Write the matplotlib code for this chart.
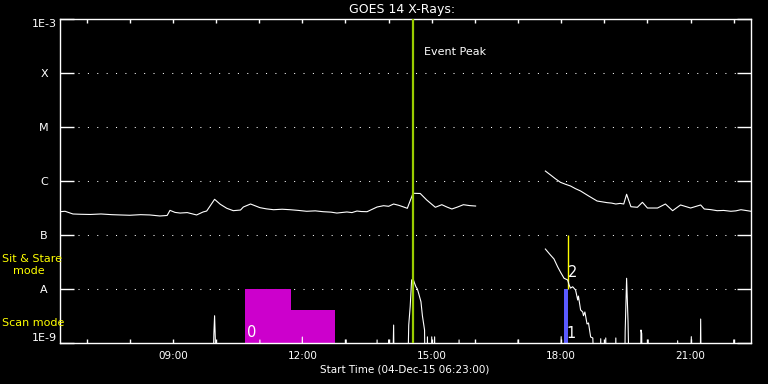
import numpy as np
import matplotlib
matplotlib.use("Agg")
import matplotlib.pyplot as plt
import matplotlib.transforms as mtransforms

# ---------------- data ----------------
title = "GOES 14 X-Rays:"
xlabel = "Start Time (04-Dec-15 06:23:00)"
x_start = "06:23"
x_end = "22:24"
hour_ticks = ["07:00", "08:00", "09:00", "10:00", "11:00", "12:00", "13:00", "14:00",
              "15:00", "16:00", "17:00", "18:00", "19:00", "20:00", "21:00", "22:00"]
label_ticks = ["09:00", "12:00", "15:00", "18:00", "21:00"]

flux_levels = [1e-9, 1e-8, 1e-7, 1e-6, 1e-5, 1e-4, 1e-3]
flux_labels = ["1E-9", "A", "B", "C", "M", "X", "1E-3"]
grid_levels = [1e-8, 1e-7, 1e-6, 1e-5, 1e-4]

# long channel (1-8 A), two segments
long_a_times = ["06:23", "06:30", "06:41", "06:52", "07:05", "07:20", "07:35", "07:47", "08:00",
                "08:15", "08:28", "08:42", "08:52", "08:56", "09:03", "09:10", "09:20", "09:33",
                "09:42", "09:47", "09:58", "10:06", "10:15", "10:24", "10:34", "10:38", "10:48",
                "11:01", "11:10", "11:20", "11:32", "11:43", "11:55", "12:06", "12:18", "12:29",
                "12:40", "12:48", "13:02", "13:09", "13:16", "13:22", "13:30", "13:35", "13:44",
                "13:53", "14:00", "14:07", "14:14", "14:21", "14:26", "14:34", "14:44", "14:53",
                "15:05", "15:14", "15:21", "15:28", "15:36", "15:44", "15:53", "16:01"]
long_a_flux = [2.70e-7, 2.75e-7, 2.45e-7, 2.42e-7, 2.40e-7, 2.45e-7, 2.38e-7, 2.35e-7, 2.32e-7,
               2.38e-7, 2.35e-7, 2.25e-7, 2.30e-7, 2.86e-7, 2.62e-7, 2.55e-7, 2.60e-7, 2.35e-7,
               2.67e-7, 2.78e-7, 4.58e-7, 3.70e-7, 3.12e-7, 2.82e-7, 2.90e-7, 3.30e-7, 3.75e-7,
               3.21e-7, 3.05e-7, 2.94e-7, 3.00e-7, 2.94e-7, 2.85e-7, 2.75e-7, 2.80e-7, 2.70e-7,
               2.65e-7, 2.55e-7, 2.67e-7, 2.60e-7, 2.78e-7, 2.72e-7, 2.70e-7, 2.90e-7, 3.30e-7,
               3.49e-7, 3.40e-7, 3.75e-7, 3.55e-7, 3.30e-7, 3.12e-7, 5.92e-7, 5.87e-7, 4.45e-7,
               3.26e-7, 3.64e-7, 3.30e-7, 3.03e-7, 3.30e-7, 3.64e-7, 3.50e-7, 3.44e-7]

long_b_times = ["17:38", "17:45", "17:52", "17:59", "18:06", "18:13", "18:20", "18:27", "18:38",
                "18:50", "19:04", "19:10", "19:16", "19:22", "19:27", "19:31", "19:37", "19:46",
                "19:53", "20:00", "20:14", "20:25", "20:35", "20:46", "21:00", "21:14", "21:19",
                "21:28", "21:37", "21:46", "21:56", "22:03", "22:10", "22:24"]
long_b_flux = [1.53e-6, 1.30e-6, 1.10e-6, 9.46e-7, 8.70e-7, 8.08e-7, 7.20e-7, 6.53e-7, 5.30e-7,
               4.26e-7, 3.97e-7, 3.90e-7, 3.75e-7, 3.85e-7, 3.75e-7, 5.68e-7, 3.34e-7, 3.26e-7,
               4.03e-7, 3.16e-7, 3.16e-7, 3.75e-7, 2.82e-7, 3.60e-7, 3.16e-7, 3.60e-7, 3.03e-7,
               2.95e-7, 2.82e-7, 2.85e-7, 2.75e-7, 2.80e-7, 2.94e-7, 2.75e-7]

# short channel (0.5-4 A); 1e-10 means below the plotted range
short_a_times = ["06:23", "09:55", "09:57", "09:58", "09:59", "10:00", "11:00", "11:01", "11:02",
                 "11:59", "12:00", "12:01", "13:00", "13:01", "13:02", "13:43", "13:44", "13:45",
                 "13:59", "14:00", "14:01", "14:05", "14:07", "14:08", "14:26", "14:28", "14:30",
                 "14:32", "14:34", "14:36", "14:38", "14:40", "14:42", "14:45", "14:47", "14:50",
                 "14:51", "14:53", "14:54", "14:55", "14:59", "15:00", "15:01", "15:03", "15:04",
                 "15:05", "15:37", "15:38", "15:39", "16:01", "16:59", "17:00", "17:01", "17:59",
                 "18:00", "18:01"]
short_a_flux = [1e-10, 1e-10, 1.5e-9, 3.2e-9, 1.2e-9, 1e-10, 1e-10, 1.14e-9, 1e-10,
                1e-10, 1.29e-9, 1e-10, 1e-10, 1.14e-9, 1e-10, 1e-10, 1.14e-9, 1e-10,
                1e-10, 1.14e-9, 1e-10, 1e-10, 2.15e-9, 1e-10, 1e-10, 2.15e-9, 4.7e-9,
                1.47e-8, 1.53e-8, 1.29e-8, 1.10e-8, 1.0e-8, 8.1e-9, 5.8e-9, 3.2e-9, 1.74e-9,
                1e-10, 1e-10, 1.3e-9, 1e-10, 1e-10, 1.3e-9, 1e-10, 1e-10, 1.3e-9,
                1e-10, 1e-10, 1.14e-9, 1e-10, 1e-10, 1e-10, 1.14e-9, 1e-10, 1e-10,
                1.31e-9, 1e-10]

short_b_times = ["17:38", "17:45", "17:50", "17:55", "17:59", "18:04", "18:09", "18:11", "18:13",
                 "18:16", "18:20", "18:23", "18:24", "18:27", "18:30", "18:31", "18:33", "18:36",
                 "18:38", "18:41", "18:44", "18:47", "18:54", "18:55", "18:56", "19:01", "19:02",
                 "19:03", "19:15", "19:16", "19:17", "19:28", "19:29", "19:31", "19:33", "19:35",
                 "19:50", "19:51", "19:52", "19:53", "20:00", "20:01", "20:02", "20:41", "20:42",
                 "20:43", "21:00", "21:01", "21:02", "21:13", "21:14", "21:15", "21:59", "22:00",
                 "22:01", "22:24"]
short_b_flux = [5.5e-8, 4.27e-8, 3.6e-8, 2.59e-8, 2.06e-8, 1.58e-8, 1.47e-8, 1.19e-8, 1.04e-8,
                1.1e-8, 9.6e-9, 6.25e-9, 7.4e-9, 4.1e-9, 3.75e-9, 3.2e-9, 3.75e-9, 2.25e-9,
                2.35e-9, 1.29e-9, 1.24e-9, 1e-10, 1e-10, 1.2e-9, 1e-10, 1e-10, 1.24e-9,
                1e-10, 1e-10, 1.24e-9, 1e-10, 1e-10, 1.62e-9, 1.58e-8, 2.48e-9, 1e-10,
                1e-10, 1.74e-9, 1.5e-9, 1e-10, 1e-10, 1.14e-9, 1e-10, 1e-10, 1.1e-9,
                1e-10, 1e-10, 1.31e-9, 1e-10, 1e-10, 2.78e-9, 1e-10, 1e-10, 1.14e-9,
                1e-10, 1e-10]

event_peak_time = "14:34"
event_peak_label = "Event Peak"

# observation blocks
scan_blocks_start = ["10:40", "11:44"]
scan_blocks_end = ["11:44", "12:46"]
scan_blocks_top = [1e-8, 4.1e-9]
blue_block = ("18:04", "18:10", 1e-8)
yellow_line = ("18:09", 1e-8, 1e-7)
obs_labels = ["0", "1", "2"]

mode_labels = ["Sit & Stare", "mode", "Scan mode"]


def hrs(s):
    h, m = s.split(":")
    return int(h) + int(m) / 60.0


# ---------------- figure ----------------
W, H = 768, 384
fig = plt.figure(figsize=(W / 100, H / 100), dpi=100, facecolor="black")
ax = fig.add_axes([60 / W, (H - 343) / H, 691 / W, 324 / H], facecolor="black")
ax.set_yscale("log")
ax.set_xlim(hrs(x_start), hrs(x_end))
ax.set_ylim(1e-9, 1e-3)

for sp in ax.spines.values():
    sp.set_color("white")
    sp.set_linewidth(1.0)

# dotted grid
for lv in grid_levels:
    ax.axhline(lv, xmin=0.026, xmax=0.98, color="white", lw=0.75,
               linestyle=(0, (1, 8)), zorder=1)

# y ticks
ax.set_yticks(flux_levels)
ax.set_yticklabels(flux_labels)
ax.yaxis.set_minor_locator(matplotlib.ticker.NullLocator())
ax.tick_params(axis="y", which="major", direction="in", length=10, width=1.0,
               color="white", labelcolor="white", labelsize=8, pad=11.5,
               left=True, right=True)
ylabs = ax.get_yticklabels()
for lab in ylabs:
    lab.set_horizontalalignment("center")
ylabs[0].set_verticalalignment("bottom")
ylabs[-1].set_verticalalignment("top")

# x ticks
ax.set_xticks([hrs(t) for t in label_ticks])
ax.set_xticklabels(label_ticks)
ax.set_xticks([hrs(t) for t in hour_ticks], minor=True)
ax.tick_params(axis="x", which="both", direction="in", length=3.2, width=1.0,
               color="white", labelcolor="white", labelsize=7.5, pad=5.5,
               top=True, bottom=True)

# observation blocks
for s, e, t in zip(scan_blocks_start, scan_blocks_end, scan_blocks_top):
    ax.fill_between([hrs(s), hrs(e)], 1e-9, t, color="#cc00cc", lw=0, zorder=2)
ax.fill_between([hrs(blue_block[0]), hrs(blue_block[1])], 1e-9, blue_block[2],
                color="#5a5aff", lw=0, zorder=2)
ax.vlines(hrs(yellow_line[0]), yellow_line[1], yellow_line[2], color="#ffff00", lw=1.0, zorder=3)

# curves
lw = 0.8
ax.plot([hrs(t) for t in long_a_times], long_a_flux, color="white", lw=lw, zorder=4)
ax.plot([hrs(t) for t in long_b_times], long_b_flux, color="white", lw=lw, zorder=4)
ax.plot([hrs(t) for t in short_a_times], short_a_flux, color="white", lw=lw, zorder=4)
ax.plot([hrs(t) for t in short_b_times], short_b_flux, color="white", lw=lw, zorder=4)

# event peak
ax.axvline(hrs(event_peak_time), color="#99cc00", lw=1.6, zorder=5)
ax.annotate(event_peak_label, xy=(hrs(event_peak_time), 1.0),
            xycoords=("data", "axes fraction"), xytext=(8, -24), textcoords="offset points",
            color="white", fontsize=8, ha="left", va="center")

# observation labels
blend = mtransforms.blended_transform_factory(ax.transData, ax.transAxes)
ax.annotate(obs_labels[0], xy=(hrs(scan_blocks_start[0]), 0.031), xycoords=blend,
            xytext=(1.5, 0), textcoords="offset points", color="white", fontsize=10.5,
            ha="left", va="center", zorder=6)
ax.annotate(obs_labels[1], xy=(hrs(blue_block[0]), 0.029), xycoords=blend,
            xytext=(2, 0), textcoords="offset points", color="white", fontsize=10.5,
            ha="left", va="center", zorder=6)
ax.annotate(obs_labels[2], xy=(hrs(yellow_line[0]), 0.219), xycoords=blend,
            xytext=(0.5, 0), textcoords="offset points", color="white", fontsize=10.5,
            ha="left", va="center", zorder=6)

# texts around
fig.text(402 / W, 1 - 10 / H, title, color="white", fontsize=9, ha="center", va="center")
fig.text(405 / W, 1 - 369 / H, xlabel, color="white", fontsize=7.5, ha="center", va="center")
fig.text(2 / W, 1 - 259 / H, mode_labels[0], color="#ffff00", fontsize=8, ha="left", va="center")
fig.text(13 / W, 1 - 271 / H, mode_labels[1], color="#ffff00", fontsize=8, ha="left", va="center")
fig.text(2 / W, 1 - 323 / H, mode_labels[2], color="#ffff00", fontsize=8, ha="left", va="center")

fig.savefig("out.png", dpi=100, facecolor="black")
